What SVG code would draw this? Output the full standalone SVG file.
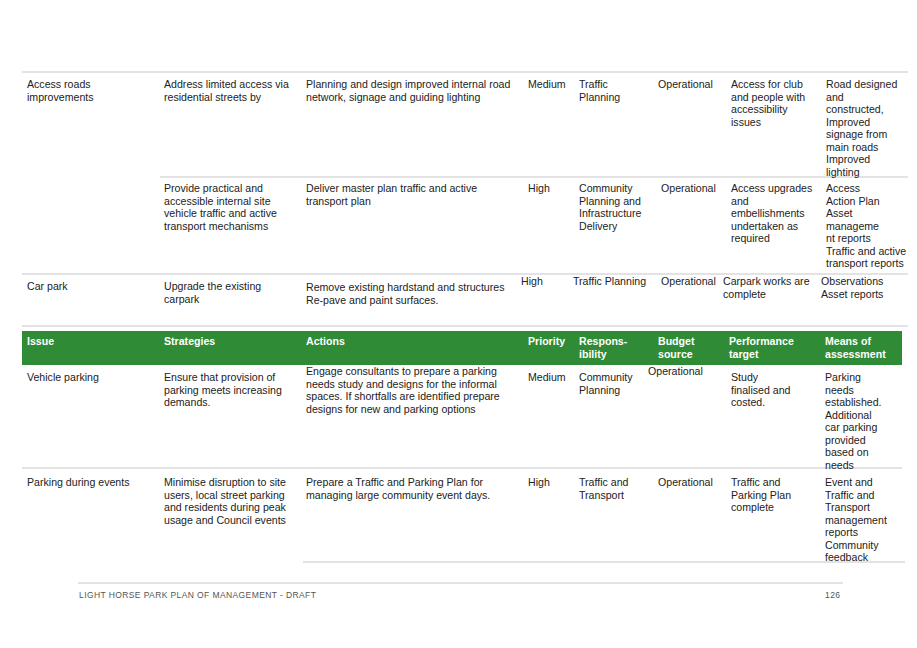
<svg xmlns="http://www.w3.org/2000/svg" width="917" height="648" viewBox="0 0 917 648">
<style>
text{font-family:"Liberation Sans",Arial,sans-serif;font-size:10.6px;fill:#222}
.h{fill:#fff;font-weight:bold}
.f{font-size:8.5px;fill:#555;letter-spacing:0.4px}
.ln{stroke:#c8c8c8;stroke-width:1.2}
</style>
<rect width="917" height="648" fill="#fff"/>
<g id="lines">
<line class="ln" x1="22" y1="72" x2="908" y2="72"/>
<line class="ln" x1="160" y1="177" x2="908" y2="177"/>
<line class="ln" x1="22" y1="274" x2="908" y2="274"/>
<line class="ln" x1="22" y1="326" x2="908" y2="326"/>
<line class="ln" x1="22" y1="468" x2="902" y2="468"/>
<line class="ln" x1="303" y1="562" x2="905" y2="562"/>
<line class="ln" x1="78" y1="583" x2="843" y2="583"/>
</g>
<g id="header">
<rect x="22" y="331" width="880" height="34" fill="#2f8b35"/>
<text class="h" x="27" y="345">Issue</text>
<text class="h" x="164" y="345">Strategies</text>
<text class="h" x="306" y="345">Actions</text>
<text class="h" x="528" y="345">Priority</text>
<text class="h" x="579" y="345">Respons-</text><text class="h" x="579" y="358">ibility</text>
<text class="h" x="658" y="345">Budget</text><text class="h" x="658" y="358">source</text>
<text class="h" x="729" y="345">Performance</text><text class="h" x="729" y="358">target</text>
<text class="h" x="825" y="345">Means of</text><text class="h" x="825" y="358">assessment</text>
</g>
<g id="row1">
<text x="27" y="88">Access roads</text><text x="27" y="100.5">improvements</text>
<text x="164" y="88">Address limited access via</text><text x="164" y="100.5">residential streets by</text>
<text x="306" y="88">Planning and design improved internal road</text><text x="306" y="100.5">network, signage and guiding lighting</text>
<text x="528" y="88">Medium</text>
<text x="579" y="88">Traffic</text><text x="579" y="100.5">Planning</text>
<text x="658" y="88">Operational</text>
<text x="731" y="88">Access for club</text><text x="731" y="100.5">and people with</text><text x="731" y="113">accessibility</text><text x="731" y="125.5">issues</text>
<text x="826" y="88">Road designed</text><text x="826" y="100.5">and</text><text x="826" y="113">constructed,</text><text x="826" y="125.5">Improved</text><text x="826" y="138">signage from</text><text x="826" y="150.5">main roads</text><text x="826" y="163">Improved</text><text x="826" y="175.5">lighting</text>
</g>
<g id="row2">
<text x="164" y="192">Provide practical and</text><text x="164" y="204.5">accessible internal site</text><text x="164" y="217">vehicle traffic and active</text><text x="164" y="229.5">transport mechanisms</text>
<text x="306" y="192">Deliver master plan traffic and active</text><text x="306" y="204.5">transport plan</text>
<text x="528" y="192">High</text>
<text x="579" y="192">Community</text><text x="579" y="204.5">Planning and</text><text x="579" y="217">Infrastructure</text><text x="579" y="229.5">Delivery</text>
<text x="661" y="192">Operational</text>
<text x="731" y="192">Access upgrades</text><text x="731" y="204.5">and</text><text x="731" y="217">embellishments</text><text x="731" y="229.5">undertaken as</text><text x="731" y="242">required</text>
<text x="826" y="192">Access</text><text x="826" y="204.5">Action Plan</text><text x="826" y="217">Asset</text><text x="826" y="229.5">manageme</text><text x="826" y="242">nt reports</text><text x="826" y="254.5">Traffic and active</text><text x="826" y="267">transport reports</text>
</g>
<g id="row3">
<text x="27" y="290">Car park</text>
<text x="164" y="290">Upgrade the existing</text><text x="164" y="302.5">carpark</text>
<text x="306" y="291">Remove existing hardstand and structures</text><text x="306" y="303.5">Re-pave and paint surfaces.</text>
<text x="521" y="285">High</text>
<text x="573" y="285">Traffic Planning</text>
<text x="661" y="285">Operational</text>
<text x="723" y="285">Carpark works are</text><text x="723" y="297.5">complete</text>
<text x="821" y="285">Observations</text><text x="821" y="297.5">Asset reports</text>
</g>
<g id="row4">
<text x="27" y="381">Vehicle parking</text>
<text x="164" y="381">Ensure that provision of</text><text x="164" y="393.5">parking meets increasing</text><text x="164" y="406">demands.</text>
<text x="306" y="375">Engage consultants to prepare a parking</text><text x="306" y="387.5">needs study and designs for the informal</text><text x="306" y="400">spaces. If shortfalls are identified prepare</text><text x="306" y="412.5">designs for new and parking options</text>
<text x="528" y="381">Medium</text>
<text x="579" y="381">Community</text><text x="579" y="393.5">Planning</text>
<text x="648" y="375">Operational</text>
<text x="731" y="381">Study</text><text x="731" y="393.5">finalised and</text><text x="731" y="406">costed.</text>
<text x="825" y="381">Parking</text><text x="825" y="393.5">needs</text><text x="825" y="406">established.</text><text x="825" y="418.5">Additional</text><text x="825" y="431">car parking</text><text x="825" y="443.5">provided</text><text x="825" y="456">based on</text><text x="825" y="468.5">needs</text>
</g>
<g id="row5">
<text x="27" y="486">Parking during events</text>
<text x="164" y="486">Minimise disruption to site</text><text x="164" y="498.5">users, local street parking</text><text x="164" y="511">and residents during peak</text><text x="164" y="523.5">usage and Council events</text>
<text x="306" y="486">Prepare a Traffic and Parking Plan for</text><text x="306" y="498.5">managing large community event days.</text>
<text x="528" y="486">High</text>
<text x="579" y="486">Traffic and</text><text x="579" y="498.5">Transport</text>
<text x="658" y="486">Operational</text>
<text x="731" y="486">Traffic and</text><text x="731" y="498.5">Parking Plan</text><text x="731" y="511">complete</text>
<text x="825" y="486">Event and</text><text x="825" y="498.5">Traffic and</text><text x="825" y="511">Transport</text><text x="825" y="523.5">management</text><text x="825" y="536">reports</text><text x="825" y="548.5">Community</text><text x="825" y="561">feedback</text>
</g>
<g id="footer">
<text class="f" x="79" y="598">LIGHT HORSE PARK PLAN OF MANAGEMENT - DRAFT</text>
<text class="f" x="825" y="598">126</text>
</g>
</svg>
